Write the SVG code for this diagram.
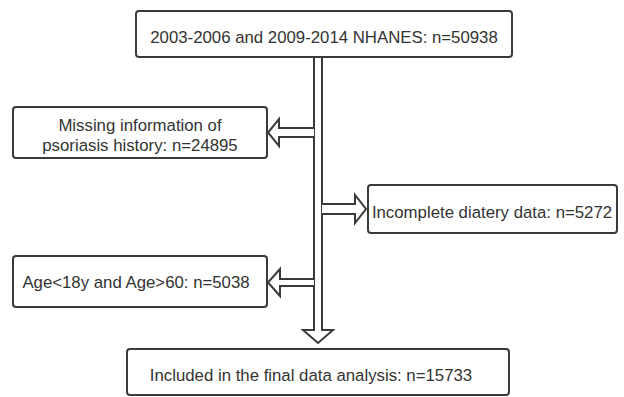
<svg xmlns="http://www.w3.org/2000/svg" width="624" height="397" viewBox="0 0 624 397">
<style>
.box{fill:#fff;stroke:#3a3a3a;stroke-width:2}
.arr{fill:#fff;stroke:#3a3a3a;stroke-width:2;stroke-linejoin:miter}
text{font-family:"Liberation Sans",Arial,sans-serif;font-size:16.8px;fill:#333;text-anchor:middle}
</style>
<rect width="624" height="397" fill="#fff"/>
<g id="connectors">
<path class="arr" d="M314,57 L314,330 L303,330 L318,343 L333,330 L322,330 L322,57"/>
<path class="arr" d="M314,128 L279,128 L279,119 L268,132.5 L279,146 L279,137 L314,137"/>
<path class="arr" d="M322,204 L355,204 L355,195 L366,209 L355,223 L355,214 L322,214"/>
<path class="arr" d="M314,279 L280,279 L280,269 L268,282.5 L280,296 L280,286 L314,286"/>
</g>
<g id="n1"><rect class="box" x="136" y="11" width="376" height="46" rx="3"/><text x="324" y="43">2003-2006 and 2009-2014 NHANES: n=50938</text></g>
<g id="n2"><rect class="box" x="13" y="107" width="254" height="51" rx="3"/><text x="140" y="131">Missing information of</text><text x="140" y="151">psoriasis history: n=24895</text></g>
<g id="n3"><rect class="box" x="368" y="185" width="249" height="48" rx="3"/><text x="492" y="218">Incomplete diatery data: n=5272</text></g>
<g id="n4"><rect class="box" x="13" y="256" width="254" height="51" rx="3"/><text x="136" y="288">Age&lt;18y and Age&gt;60: n=5038</text></g>
<g id="n5"><rect class="box" x="127" y="349" width="382" height="46" rx="3"/><text x="311" y="381">Included in the final data analysis: n=15733</text></g>
</svg>
